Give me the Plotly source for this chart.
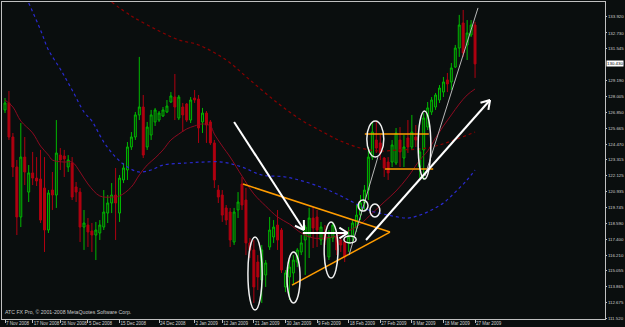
import math
import plotly.graph_objects as go

# ---------------- data (daily candles, bar index 0 = 7 Nov 2008) ----------------
bar_open = [127.01, 127.53, 125.00, 122.77, 119.06, 123.51, 120.91, 122.33, 121.95, 121.88,
            121.21, 118.09, 121.06, 120.69, 123.66, 123.59, 122.77, 123.07, 121.29, 120.91,
            118.31, 118.46, 118.02, 117.72, 117.87, 118.31, 119.35, 120.10, 120.69, 119.35,
            121.81, 122.55, 124.26, 125.00, 126.64, 127.23, 124.26, 125.15, 126.12, 126.26,
            126.56, 126.86, 127.60, 127.97, 126.41, 127.23, 127.45, 126.26, 127.90, 127.82,
            126.12, 126.78, 126.12, 124.56, 121.06, 120.69, 119.73, 119.43, 117.20, 119.58,
            121.51, 120.32, 117.13, 116.61, 115.71, 114.38, 114.75, 116.83, 117.57, 118.46,
            118.09, 113.86, 114.60, 114.90, 115.71, 116.46, 117.35, 117.57, 118.98, 119.06,
            117.35, 117.94, 116.09, 117.50, 117.57, 117.35, 117.20, 117.13, 117.57, 118.24,
            119.20, 120.10, 121.06, 123.51, 124.78, 124.56, 123.44, 123.14, 123.14, 123.07,
            124.78, 123.44, 124.93, 124.26, 125.00, 122.77, 124.04, 125.74, 126.86, 127.23,
            127.75, 128.34, 129.24, 129.09, 130.20, 131.61, 133.47, 131.84, 132.58, 133.32]
bar_high = [127.90, 128.42, 125.30, 123.29, 126.04, 125.00, 122.92, 123.89, 123.51, 124.04,
            123.51, 121.06, 122.40, 126.26, 124.18, 124.04, 123.66, 123.51, 121.66, 121.21,
            119.58, 118.98, 118.61, 118.69, 118.83, 121.06, 120.69, 121.58, 122.70, 122.18,
            123.07, 124.63, 125.37, 126.86, 130.95, 128.12, 126.12, 127.01, 127.16, 126.93,
            127.23, 127.75, 128.34, 129.68, 128.12, 127.53, 127.53, 127.97, 128.49, 128.12,
            127.16, 126.93, 126.26, 124.78, 121.43, 121.06, 119.95, 119.73, 119.73, 120.91,
            122.03, 121.21, 117.50, 117.35, 116.23, 116.98, 115.86, 119.06, 118.83, 119.58,
            118.24, 115.12, 115.86, 116.23, 116.75, 117.72, 118.46, 119.73, 119.80, 119.58,
            118.69, 118.46, 118.09, 118.69, 117.87, 117.57, 117.57, 118.31, 118.83, 119.95,
            120.69, 121.43, 124.26, 126.12, 126.12, 125.15, 123.51, 123.51, 124.78, 125.67,
            125.74, 125.15, 126.26, 126.64, 125.89, 124.18, 126.78, 127.60, 127.97, 128.27,
            128.86, 129.46, 129.76, 130.50, 131.84, 134.07, 134.44, 133.69, 133.69, 133.55]
bar_low = [126.78, 124.78, 122.03, 117.72, 118.31, 121.43, 120.17, 121.43, 121.36, 118.61,
           116.46, 117.87, 119.58, 119.73, 122.55, 122.03, 122.40, 120.32, 120.17, 117.20,
           116.61, 116.83, 116.46, 115.86, 117.35, 118.09, 118.61, 119.35, 117.35, 118.69,
           121.58, 121.81, 124.04, 124.78, 126.26, 123.44, 124.04, 124.78, 125.82, 126.12,
           126.49, 126.78, 127.53, 126.26, 126.26, 125.37, 126.12, 126.04, 127.53, 124.56,
           125.30, 124.56, 124.41, 121.21, 120.10, 118.69, 118.46, 116.83, 116.98, 118.98,
           119.58, 116.23, 116.01, 112.67, 113.63, 112.67, 113.86, 116.61, 117.13, 116.61,
           114.90, 113.48, 112.89, 114.00, 115.34, 116.23, 114.75, 116.01, 116.75, 116.83,
           116.98, 116.98, 115.86, 117.20, 116.23, 116.46, 115.71, 116.46, 117.20, 117.94,
           118.83, 119.58, 120.32, 123.29, 123.81, 123.29, 122.03, 121.81, 122.77, 122.92,
           122.77, 122.77, 123.81, 124.04, 124.26, 121.95, 121.81, 125.52, 126.64, 127.01,
           127.53, 127.97, 128.34, 128.49, 130.13, 130.95, 130.95, 130.72, 132.43, 129.39]
bar_close = [127.53, 125.00, 122.77, 119.06, 123.51, 122.40, 122.33, 121.95, 121.73, 118.83,
             118.09, 120.84, 120.69, 123.81, 123.29, 123.37, 123.29, 120.54, 120.91, 118.31,
             118.61, 117.94, 117.72, 118.09, 118.46, 119.43, 120.10, 120.69, 120.10, 121.95,
             122.70, 124.26, 125.00, 126.64, 127.23, 123.66, 125.74, 126.64, 127.01, 126.78,
             127.01, 127.30, 128.05, 127.23, 127.97, 126.64, 126.26, 127.75, 127.75, 125.67,
             126.78, 125.89, 124.56, 121.81, 120.54, 119.20, 118.83, 117.35, 119.43, 120.17,
             119.95, 117.13, 116.61, 113.86, 114.60, 116.61, 115.64, 118.09, 118.31, 117.35,
             115.12, 114.90, 115.34, 115.86, 116.61, 117.13, 118.31, 118.98, 118.24, 118.09,
             118.31, 117.35, 117.57, 118.46, 116.61, 116.98, 116.09, 117.57, 118.61, 119.20,
             120.10, 121.06, 123.51, 125.37, 124.18, 123.81, 122.70, 122.33, 124.41, 125.30,
             123.89, 124.26, 124.26, 125.37, 124.78, 123.89, 126.41, 127.16, 127.75, 128.12,
             128.64, 129.09, 128.94, 130.13, 131.61, 133.32, 131.24, 132.73, 133.32, 130.43]

# moving averages (bar index, price)
ma_fast_bar = [0, 2, 4, 7, 9, 11, 12, 15, 17, 19, 21, 24, 27, 29, 32, 34, 36, 38, 40, 42, 44, 46, 48,
               50, 52, 53, 55, 57, 60, 63, 66, 69, 72, 75, 78, 81, 84, 87, 90, 93, 96, 99, 102, 105,
               107, 109, 111, 113, 115, 117, 119]
ma_fast_val = [127.75, 127.23, 126.19, 125.30, 124.33, 123.66, 123.29, 123.14, 123.14, 122.40, 121.51,
               120.62, 120.54, 120.62, 121.29, 122.18, 122.92, 123.44, 124.04, 124.78, 125.22, 125.60,
               125.82, 125.97, 125.82, 125.22, 124.33, 123.51, 122.10, 120.77, 119.87, 119.06, 118.54,
               117.87, 117.50, 117.50, 117.65, 118.02, 118.54, 119.35, 120.17, 120.99, 122.03, 123.29,
               123.96, 124.93, 125.82, 126.64, 127.45, 128.12, 128.57]
ma_slow_bar = [27, 32, 39, 44, 49, 56, 62, 69, 75, 80, 85, 90, 95, 100, 105, 109, 113, 119]
ma_slow_val = [135.03, 133.99, 132.88, 132.21, 131.84, 130.72, 129.24, 127.53, 126.26, 125.45,
               124.70, 124.18, 123.96, 124.04, 124.11, 124.33, 124.70, 125.37]
ma_mid_bar = [6, 9, 11, 14, 17, 20, 22, 25, 28, 31, 34, 37, 40, 46, 50, 55, 60, 65, 71, 77, 83, 88,
              92, 97, 102, 105, 108, 111, 114, 117, 119]
ma_mid_val = [134.96, 132.95, 131.47, 130.05, 128.49, 126.86, 126.19, 124.63, 123.51, 122.77, 122.40,
              122.55, 122.92, 123.07, 123.14, 123.14, 122.77, 122.18, 122.03, 121.58, 120.91, 120.17,
              119.58, 119.20, 118.98, 119.20, 119.58, 120.10, 120.91, 121.81, 122.55]

# axis labels
date_tick_bar = [0, 7, 14, 21, 29, 39, 48, 55, 63, 71, 79, 87, 95, 103, 111, 119]
date_tick_text = ["7 Nov 2008", "17 Nov 2008", "26 Nov 2008", "5 Dec 2008", "15 Dec 2008",
                  "24 Dec 2008", "2 Jan 2009", "12 Jan 2009", "21 Jan 2009", "30 Jan 2009",
                  "9 Feb 2009", "18 Feb 2009", "27 Feb 2009", "9 Mar 2009", "18 Mar 2009",
                  "27 Mar 2009"]
price_ticks = [133.920, 132.730, 131.545, 129.190, 128.005, 126.850, 125.665, 124.470, 123.315,
               122.125, 120.935, 119.745, 118.590, 117.400, 116.210, 115.055, 113.865, 112.675,
               111.520]
last_price = 130.430

# hand-drawn analysis objects (bar index, price)
orange_segments = [((60.25, 121.51), (97.47, 117.94)),
                   ((72.66, 114.00), (97.47, 117.94)),
                   ((91.1, 125.22), (107.3, 125.22)),
                   ((96.2, 122.62), (108.4, 122.62))]
grey_segments = [((87.1, 116.23), (94.4, 123.51)),
                 ((106.3, 122.10), (119.75, 134.59))]
white_arrows = [((58.0, 126.12), (75.7, 118.09)),
                ((75.4, 117.87), (86.8, 117.87)),
                ((91.4, 117.35), (122.8, 127.75))]
white_ellipses = [(61.5, 65.1, 112.15, 117.57),
                  (71.4, 74.7, 112.67, 116.46),
                  (80.8, 84.3, 114.52, 118.69),
                  (85.8, 88.9, 117.13, 117.65),
                  (89.4, 91.9, 119.50, 120.32),
                  (92.4, 94.9, 119.06, 120.02),
                  (91.6, 95.9, 123.51, 126.19),
                  (104.6, 107.8, 121.88, 126.93)]

# ---------------- figure ----------------
W, H = 625, 327
ML, MR, MT, MB = 2, 20, 2, 8
XR = [-0.76, 151.9]
YR = [111.48, 135.03]
PW, PH = W - ML - MR, H - MT - MB
FONT = "Liberation Sans"

def to_px(b, p):
    return (ML + (b - XR[0]) / (XR[1] - XR[0]) * PW,
            MT + (YR[1] - p) / (YR[1] - YR[0]) * PH)

def to_data(px, py):
    return (XR[0] + (px - ML) / PW * (XR[1] - XR[0]),
            YR[1] - (py - MT) / PH * (YR[1] - YR[0]))

bars = list(range(len(bar_open)))
BG = "#0a0e0e"

fig = go.Figure()
fig.add_trace(go.Candlestick(
    x=bars, open=bar_open, high=bar_high, low=bar_low, close=bar_close,
    increasing=dict(line=dict(color="#00b800", width=1), fillcolor="#0c2a0c"),
    decreasing=dict(line=dict(color="#b00010", width=1), fillcolor="#b00010"),
    whiskerwidth=0, showlegend=False, hoverinfo="skip"))
fig.add_trace(go.Scatter(x=ma_slow_bar, y=ma_slow_val, mode="lines", line_shape="spline",
                         line=dict(color="#8a0000", width=1.2, dash="dot"), showlegend=False))
fig.add_trace(go.Scatter(x=ma_mid_bar, y=ma_mid_val, mode="lines", line_shape="spline",
                         line=dict(color="#2a2ad0", width=1.2, dash="dot"), showlegend=False))
fig.add_trace(go.Scatter(x=ma_fast_bar, y=ma_fast_val, mode="lines", line_shape="spline",
                         line=dict(color="#8c0a20", width=1), showlegend=False))

shapes = []
for (a, b) in orange_segments:
    shapes.append(dict(type="line", xref="x", yref="y", x0=a[0], y0=a[1], x1=b[0], y1=b[1],
                       line=dict(color="#ff9c00", width=1.5)))
for (a, b) in grey_segments:
    shapes.append(dict(type="line", xref="x", yref="y", x0=a[0], y0=a[1], x1=b[0], y1=b[1],
                       line=dict(color="#b8b8b8", width=1)))
for (x0, x1, y0, y1) in white_ellipses:
    shapes.append(dict(type="circle", xref="x", yref="y", x0=x0, x1=x1, y0=y0, y1=y1,
                       line=dict(color="#f0f0f0", width=1.5)))
for (a, b) in white_arrows:
    shapes.append(dict(type="line", xref="x", yref="y", x0=a[0], y0=a[1], x1=b[0], y1=b[1],
                       line=dict(color="#ffffff", width=2)))
    ax, ay = to_px(*a)
    bx, by = to_px(*b)
    ang = math.atan2(by - ay, bx - ax)
    for s in (1, -1):
        la = ang + math.pi - s * math.radians(32)
        lx, ly = bx + 10 * math.cos(la), by + 10 * math.sin(la)
        d = to_data(lx, ly)
        shapes.append(dict(type="line", xref="x", yref="y", x0=b[0], y0=b[1], x1=d[0], y1=d[1],
                           line=dict(color="#ffffff", width=2)))

annotations = [
    dict(xref="paper", yref="y", x=1, y=last_price, xanchor="left", yanchor="middle",
         xshift=1, text="%.3f" % last_price, showarrow=False, bgcolor="#ffffff",
         font=dict(color="#000000", size=4.4, family=FONT), borderpad=0),
    dict(xref="paper", yref="paper", x=0, y=0, xanchor="left", yanchor="bottom", xshift=1, yshift=2,
         text="ATC FX Pro, \u00a9 2001-2008 MetaQuotes Software Corp.", showarrow=False,
         font=dict(color="#c8c8c8", size=5.2, family=FONT)),
]

fig.update_layout(
    width=W, height=H, margin=dict(l=ML, r=MR, t=MT, b=MB),
    paper_bgcolor=BG, plot_bgcolor=BG, shapes=shapes, annotations=annotations,
    showlegend=False, hovermode=False,
    font=dict(family=FONT, color="#d0d0d0", size=4.4),
)
fig.update_xaxes(range=XR, rangeslider_visible=False, showgrid=False, zeroline=False,
                 tickmode="array", tickvals=date_tick_bar, ticktext=date_tick_text,
                 ticks="outside", ticklen=3, tickcolor="#c0c0c0", ticklabelposition="outside right",
                 tickangle=0, automargin=False, ticklabelstandoff=0,
                 tickfont=dict(size=4.5, color="#d0d0d0", family=FONT),
                 showline=True, linecolor="#c0c0c0", linewidth=1, mirror=True)
fig.update_yaxes(range=YR, side="right", showgrid=False, zeroline=False,
                 tickmode="array", tickvals=price_ticks, ticktext=["%.3f" % v for v in price_ticks],
                 ticks="outside", ticklen=1, tickcolor="#c0c0c0", automargin=False,
                 ticklabelstandoff=0,
                 tickfont=dict(size=4.4, color="#d0d0d0", family=FONT),
                 showline=True, linecolor="#c0c0c0", linewidth=1, mirror=True)

fig.write_html("out.html")
